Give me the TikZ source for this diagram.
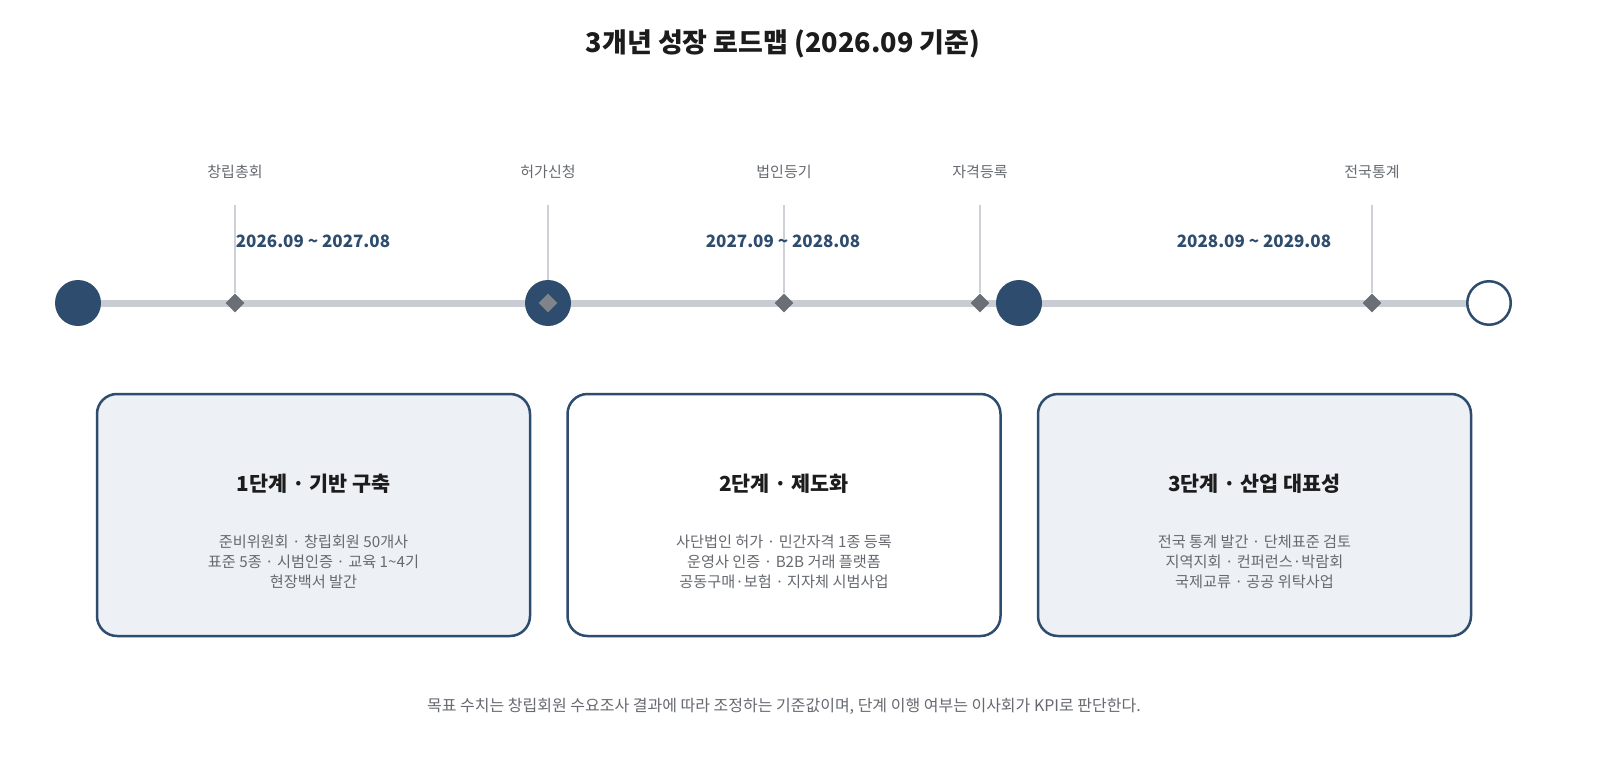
\documentclass[tikz,border=0pt]{standalone}
\usepackage{fontspec}
\setmainfont{Noto Sans CJK KR}
\usetikzlibrary{shapes.geometric}
\definecolor{navy}{HTML}{2E4C6D}
\definecolor{track}{HTML}{C9CDD3}
\definecolor{dia}{HTML}{6A6E75}
\definecolor{vline}{HTML}{CDD0D4}
\definecolor{lbl}{HTML}{666A70}
\definecolor{boxfill}{HTML}{EDF1F6}
\definecolor{ink}{HTML}{1C1C1C}
\tikzset{
  phase/.style={circle, fill=navy, minimum size=46pt, inner sep=0pt},
  endphase/.style={circle, draw=navy, line width=2.5pt, fill=white, minimum size=43.5pt, inner sep=0pt},
  milestone/.style={diamond, fill=dia, minimum size=19pt, inner sep=0pt},
  mlabel/.style={font=\fontsize{15pt}{17pt}\selectfont, text=lbl},
  datelbl/.style={font=\bfseries\fontsize{17pt}{19pt}\selectfont, text=navy},
  stagebox/.style={draw=navy, line width=2.5pt, rounded corners=20pt, minimum width=433pt, minimum height=242pt, inner sep=0pt},
  stitle/.style={font=\bfseries\fontsize{20.7pt}{24pt}\selectfont, text=ink},
  sbody/.style={font=\fontsize{15.2pt}{20pt}\selectfont, text=lbl, align=center},
  tick/.style={draw=vline, line width=1.2pt}
}
\begin{document}
\begin{tikzpicture}[x=1pt, y=-1pt]
\useasboundingbox (0,0) rectangle (1600,773);
\fill[white] (0,0) rectangle (1600,773);
\node[font=\bfseries\fontsize{27pt}{31pt}\selectfont, text=ink] (title) at (783,44) {3개년 성장 로드맵 (2026.09 기준)};
% timeline
\coordinate (tl) at (78,303);
\coordinate (tr) at (1489,303);
\draw[track, line width=7pt] (tl) -- (tr);
% vertical ticks
\coordinate (v1) at (235,205); \coordinate (v2) at (548,205); \coordinate (v3) at (784,205);
\coordinate (v4) at (980,205); \coordinate (v5) at (1372,205);
\node[milestone] (m1) at (235,303) {};
\node[milestone] (m3) at (784,303) {};
\node[milestone] (m4) at (980,303) {};
\node[milestone] (m5) at (1372,303) {};
\draw[tick] (v1) -- (m1.north);
\draw[tick] (v3) -- (m3.north);
\draw[tick] (v4) -- (m4.north);
\draw[tick] (v5) -- (m5.north);
% phase circles
\node[phase] (p1) at (78,303) {};
\node[phase] (p2) at (548,303) {};
\node[phase] (p3) at (1019,303) {};
\node[endphase] (p4) at (1489,303) {};
\node[milestone, fill=dia!85!white] (m2) at (548,303) {};
\draw[tick] (v2) -- (p2.north);
% milestone labels
\node[mlabel] (l1) at (235,172) {창립총회};
\node[mlabel] (l2) at (548,172) {허가신청};
\node[mlabel] (l3) at (784,172) {법인등기};
\node[mlabel] (l4) at (980,172) {자격등록};
\node[mlabel] (l5) at (1372,172) {전국통계};
% date labels
\node[datelbl] (d1) at (313,241) {2026.09 \char`~\ 2027.08};
\node[datelbl] (d2) at (783,241) {2027.09 \char`~\ 2028.08};
\node[datelbl] (d3) at (1254,241) {2028.09 \char`~\ 2029.08};
% stage boxes
\node[stagebox, fill=boxfill] (b1) at (313.5,515) {};
\node[stagebox, fill=white] (b2) at (784,515) {};
\node[stagebox, fill=boxfill] (b3) at (1254.5,515) {};
\node[stitle] (t1) at (313.5,484) {1단계 · 기반 구축};
\node[stitle] (t2) at (784,484) {2단계 · 제도화};
\node[stitle] (t3) at (1254.5,484) {3단계 · 산업 대표성};
\node[sbody] (s1) at (313.5,562) {준비위원회 · 창립회원 50개사\\표준 5종 · 시범인증 · 교육 1\char`~4기\\현장백서 발간};
\node[sbody] (s2) at (784,562) {사단법인 허가 · 민간자격 1종 등록\\운영사 인증 · B2B 거래 플랫폼\\공동구매·보험 · 지자체 시범사업};
\node[sbody] (s3) at (1254.5,562) {전국 통계 발간 · 단체표준 검토\\지역지회 · 컨퍼런스·박람회\\국제교류 · 공공 위탁사업};
% footer
\node[font=\fontsize{16pt}{19pt}\selectfont, text=lbl] (foot) at (784,706) {목표 수치는 창립회원 수요조사 결과에 따라 조정하는 기준값이며, 단계 이행 여부는 이사회가 KPI로 판단한다.};
\end{tikzpicture}
\end{document}
